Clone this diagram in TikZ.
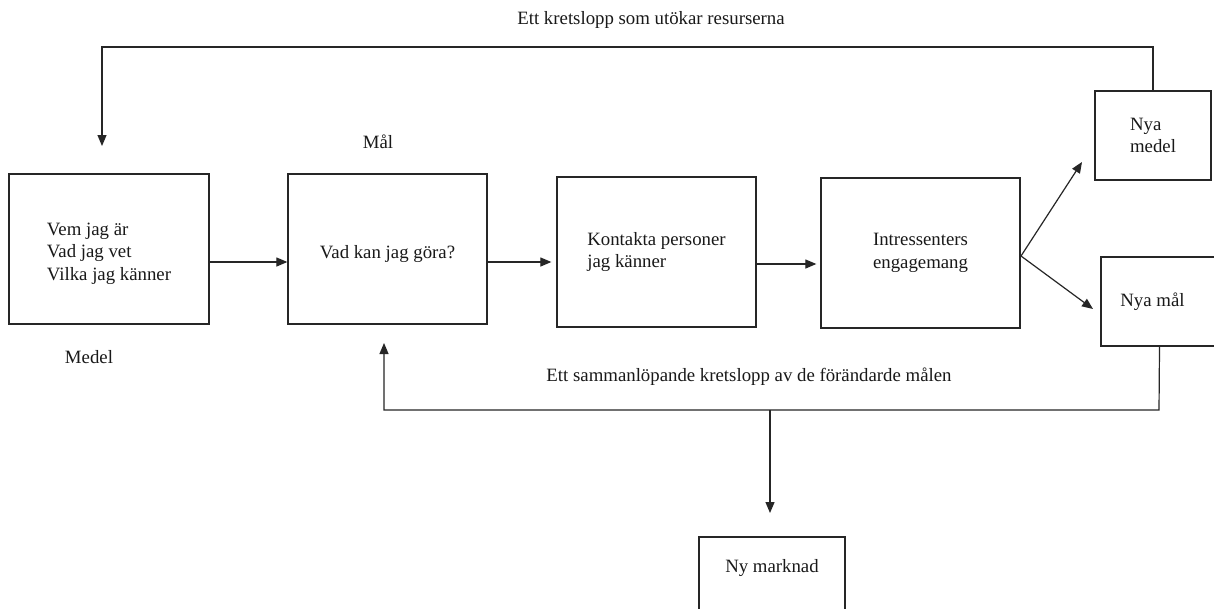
\documentclass[tikz,border=0pt]{standalone}
\usepackage{fontspec}
\setmainfont{Liberation Serif}
\usetikzlibrary{arrows.meta}
\begin{document}
\begin{tikzpicture}[x=1pt,y=-1pt,
  every node/.style={font=\fontsize{18.8}{22.5}\selectfont, text=black!90},
  box/.style={draw=black!85, line width=1.3pt, rectangle, align=left, inner sep=0pt},
  conn/.style={draw=black!85, line width=1.2pt},
  arr/.style={conn, -{Triangle[length=11pt,width=9pt]}}
]
\useasboundingbox (0,0) rectangle (1214,608);
\fill[white] (0,0) rectangle (1214,608);

% boxes
\node[box, minimum width=200pt, minimum height=150pt, text height=67pt] (b1) at (109,249) {Vem jag är\\Vad jag vet\\Vilka jag känner};
\node[box, minimum width=199pt, minimum height=150pt, text height=23pt, text depth=4pt] (b2) at (387.5,249) {Vad kan jag göra?};
\node[box, minimum width=199pt, minimum height=150pt] (b3) at (656.5,252) {Kontakta personer\\jag känner};
\node[box, minimum width=199pt, minimum height=150pt] (b4) at (920.5,253) {Intressenters\\engagemang};
\node[box, minimum width=116pt, minimum height=89pt] (nm) at (1153,135.5) {Nya\\medel};
\node[box, minimum width=117pt, minimum height=89pt] (nmal) at (1159.5,301.5) {Nya mål\hspace*{14pt}};
\node[box, align=center, minimum width=146pt, minimum height=80pt] (nym) at (772,577) {Ny marknad\\ \mbox{}};

% labels
\node (t1) at (651,20) {Ett kretslopp som utökar resurserna};
\node (mal) at (378,142) {Mål};
\node (medel) at (89,357) {Medel};
\node (t2) at (749,377) {Ett sammanlöpande kretslopp av de förändarde målen};

% coordinates
\coordinate (topL) at (102,47);
\coordinate (topR) at (1153,47);
\coordinate (topEnd) at (102,146);
\coordinate (botR) at (1159,410);
\coordinate (botL) at (384,410);
\coordinate (botEnd) at (384,343);
\coordinate (br) at (770,410);
\coordinate (brEnd) at (770,513);
\coordinate (fork) at (1021,256);
\coordinate (e1) at (1082,162);
\coordinate (e2) at (1093,309);

% connectors
\draw[arr] (nm.north) -- (topR) -- (topL) -- (topEnd);
\draw[arr] ([yshift=-13pt]b1.east) -- ([yshift=-13pt]b2.west);
\draw[arr, shorten >=5pt] ([yshift=-13pt]b2.east) -- ([yshift=-13pt]b2.east -| b3.west);
\draw[arr, shorten >=4pt] ([yshift=-12pt]b3.east) -- ([yshift=-12pt]b3.east -| b4.west);
\draw[arr] (fork) -- (e1);
\draw[arr] (fork) -- (e2);
\draw[arr] (nmal.south) -- (botR) -- (botL) -- (botEnd);
\draw[arr] (br) -- (brEnd);
\end{tikzpicture}
\end{document}
